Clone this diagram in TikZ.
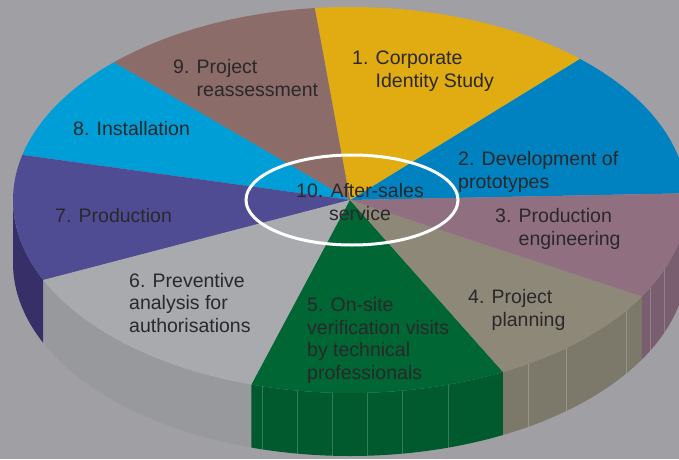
\documentclass[tikz,border=0pt]{standalone}
\usepackage{fontspec}
\setmainfont{Liberation Sans}
\definecolor{bg}{RGB}{160,159,164}
\definecolor{txt}{RGB}{42,40,42}
\definecolor{cyellow}{RGB}{224,172,18}
\definecolor{cblue}{RGB}{0,130,192}
\definecolor{cmauve}{RGB}{144,112,128}
\definecolor{ckhaki}{RGB}{142,136,120}
\definecolor{cgreen}{RGB}{0,102,51}
\definecolor{cgray}{RGB}{168,170,173}
\definecolor{cpurple}{RGB}{80,76,148}
\definecolor{ccyan}{RGB}{0,158,214}
\definecolor{cbrown}{RGB}{140,108,104}
\definecolor{spurple}{RGB}{54,47,104}
\definecolor{sgray}{RGB}{152,153,157}
\definecolor{sgreen}{RGB}{0,90,45}
\definecolor{skhaki}{RGB}{124,120,106}
\definecolor{smauve}{RGB}{120,94,110}
\begin{document}
\begin{tikzpicture}[x=1pt, y=1pt,
    lbl/.style={anchor=base west, align=left, inner sep=0pt, text=txt,
        font=\fontsize{19.5}{22.5}\selectfont},
    seam/.style={white, opacity=0.2, line width=0.6pt},
    rim/.style={x radius=337pt, y radius=193pt}]
    \useasboundingbox (0,0) rectangle (679,459);
    \clip (0,0) rectangle (679,459);
    \fill[bg] (0,0) rectangle (679,459);
    \def\d{63}
    \begin{scope}[shift={(350,259)}]
    % rim of the front half, drawn before the top
    \foreach \a/\b/\c in {180/204.5/spurple, 204.5/253/sgray, 253/297/sgreen, 297/330/skhaki, 330/362/smauve}{
        \fill[\c] (\a:337pt and 193pt) arc[rim, start angle=\a, end angle=\b]
            -- ++(0,-\d) arc[rim, start angle=\b, end angle=\a] -- cycle;
    }
    \foreach \a in {255,261,267,273,279,287,302,310,325,333,339}{
        \draw[seam] (\a:337pt and 193pt) -- ++(0,-\d);
    }
    % the slices, counter-clockwise from 2.
    \foreach \a/\b/\c in {2/47/cblue, 47/96/cyellow, 96/134.5/cbrown, 134.5/166.5/ccyan,
        166.5/204.5/cpurple, 204.5/253/cgray, 253/297/cgreen, 297/330/ckhaki, 330/362/cmauve}{
        \fill[\c] (0,0) -- (\a:337pt and 193pt) arc[rim, start angle=\a, end angle=\b] -- cycle;
    }
    \draw[white, line width=3pt] (2,0) ellipse [x radius=106pt, y radius=45pt];
    \end{scope}
    % base of a node with several lines = its last line
    \node[lbl] (s1) at (352,372) {1. Corporate\\\hphantom{1. }Identity Study};
    \node[lbl] (s2) at (458,271) {2. Development of\\prototypes};
    \node[lbl] (s3) at (495,214) {3. Production\\\hphantom{3. }engineering};
    \node[lbl] (s4) at (468,133) {4. Project\\\hphantom{4. }planning};
    \node[lbl] (s5) at (307,80) {5. On-site\\verification visits\\by technical\\professionals};
    \node[lbl] (s6) at (129,127) {6. Preventive\\analysis for\\authorisations};
    \node[lbl] (s7) at (55,237) {7. Production};
    \node[lbl] (s8) at (73,324) {8. Installation};
    \node[lbl] (s9) at (173,363) {9. Project\\\hphantom{9. }reassessment};
    \node[lbl, anchor=base, align=center] (s10) at (360,239) {10. After-sales\\service};
\end{tikzpicture}
\end{document}
